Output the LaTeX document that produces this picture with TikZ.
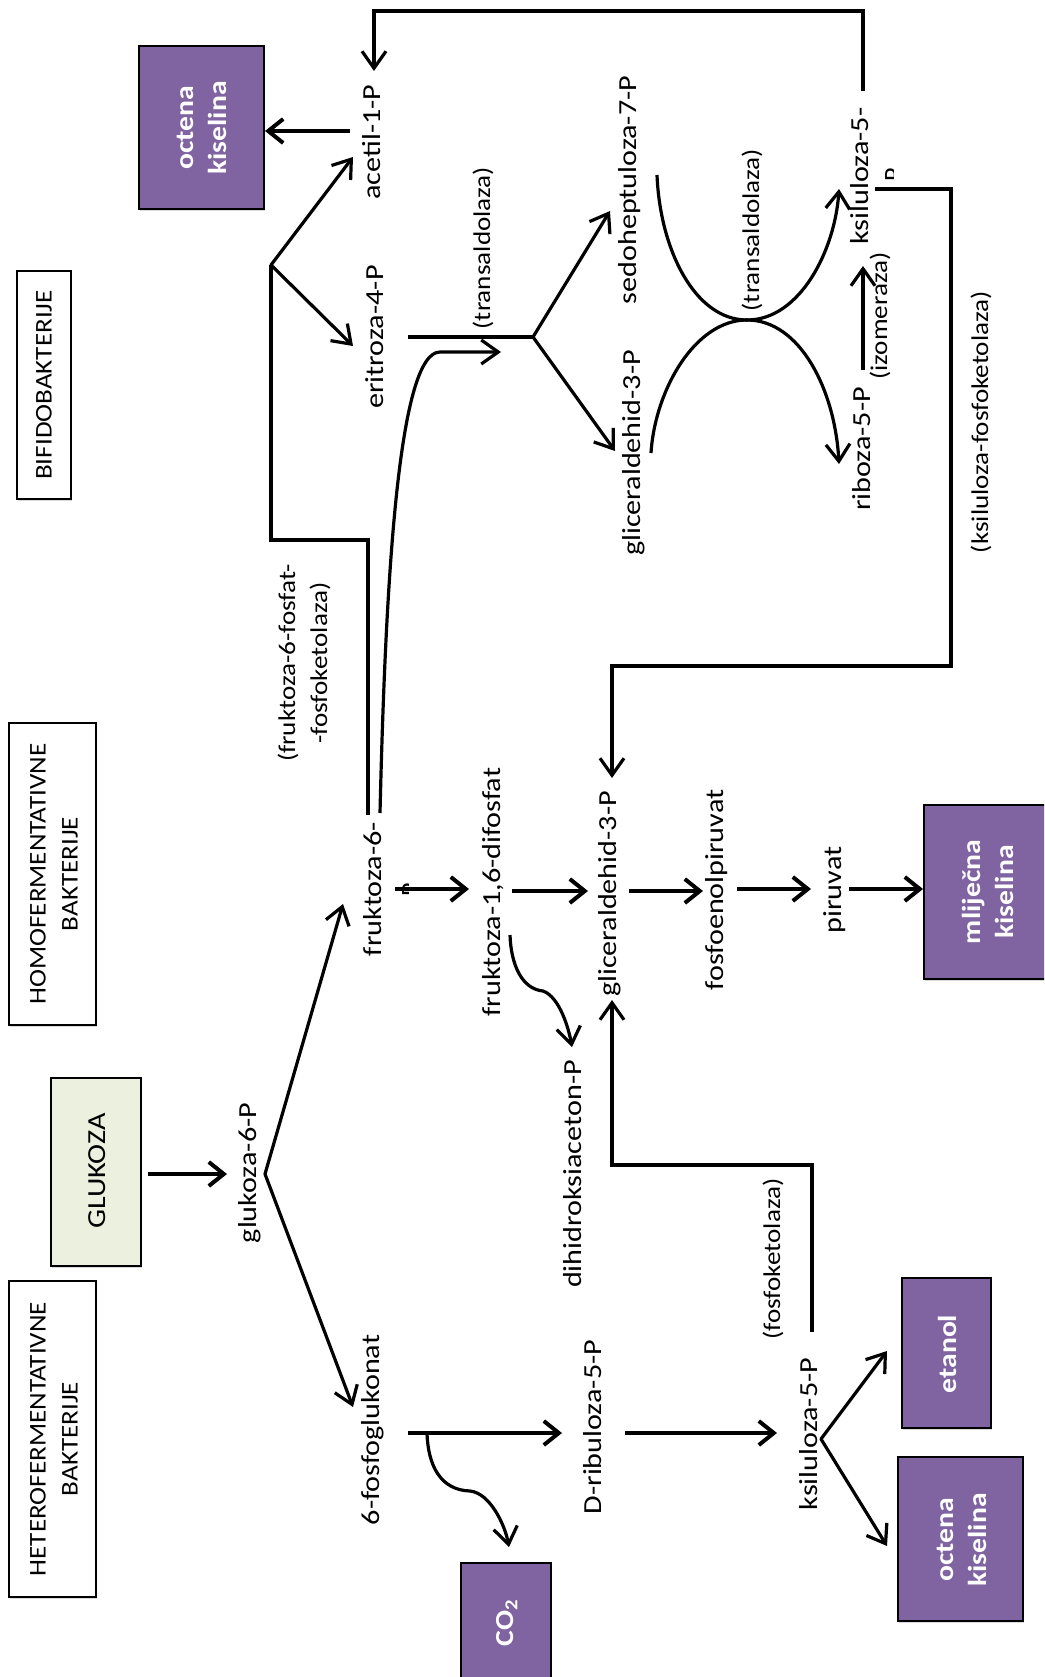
\documentclass[tikz,border=0pt]{standalone}
\usepackage{fontspec}
\setmainfont{Carlito}
\usetikzlibrary{arrows.meta,shadows}
\definecolor{purp}{HTML}{8064A2}
\definecolor{gluk}{HTML}{EBF1DE}
\tikzset{
 lbl/.style={rotate=90,xscale=1.16,inner sep=0pt,align=center,font=\fontsize{26}{30}\selectfont},
 enz/.style={rotate=90,xscale=1.13,inner sep=0pt,align=center,font=\fontsize{24}{32}\selectfont},
 clipp/.style={rotate=90,inner sep=0pt,font=\fontsize{26}{30}\selectfont},
 lblbold/.style={rotate=90,xscale=1.14,inner sep=0pt,align=center,text=white,font=\fontsize{26}{33}\selectfont\bfseries},
 fr/.style={draw=black,line width=1.5pt,drop shadow={shadow xshift=1pt,shadow yshift=-2pt,opacity=.3}},
 wbox/.style={fr,fill=white},
 pbox/.style={fr,fill=purp},
 gbox/.style={fr,fill=gluk},
 con/.style={line width=3.2pt,line cap=round,-{Straight Barb[length=17pt,width=24pt,line width=3.2pt]}},
 conb/.style={line width=4.2pt,-{Straight Barb[length=15pt,width=24pt,line width=4pt]}},
 plain/.style={line width=3.2pt,line join=miter},
}
\begin{document}
\begin{tikzpicture}[x=1pt,y=-1pt]
\useasboundingbox (0,0) rectangle (1044,1677);
\clip (0,0) rectangle (1044,1677);
% boxes
\path[wbox] (17,271) rectangle (71,499);
\path[wbox] (9,723) rectangle (96,1025);
\path[wbox] (9,1281) rectangle (96,1597);
\path[gbox] (51,1078) rectangle (141,1266);
\path[pbox] (139,46) rectangle (264,209);
\path[pbox] (924,805) rectangle (1060,979);
\path[pbox] (902,1278) rectangle (991,1428);
\path[pbox] (898,1457) rectangle (1023,1621);
\path[pbox] (461,1563) rectangle (551,1690);
% box text
\node[enz] (bifido) at (44,385) {BIFIDOBAKTERIJE};
\node[enz] (homo) at (54,874) {HOMOFERMENTATIVNE\\BAKTERIJE};
\node[enz] (hetero) at (54,1439) {HETEROFERMENTATIVNE\\BAKTERIJE};
\node[lbl] (glukoza) at (97,1171) {GLUKOZA};
\node[lblbold] (oct1) at (202,128) {octena\\kiselina};
\node[lblbold] (mlij) at (988,892) {mliječna\\kiselina};
\node[lblbold] (etanol) at (947,1354) {etanol};
\node[lblbold] (oct2) at (962,1540) {octena\\kiselina};
\node[lblbold] (co2) at (507,1623) {CO\textsubscript{2}};
% metabolites
\node[lbl] (acetil) at (372,142) {acetil-1-P};
\node[lbl] (eritroza) at (375,337) {eritroza-4-P};
\node[lbl] (sedo) at (630,190) {sedoheptuloza-7-P};
\node[lbl] (gli1) at (634,453) {gliceraldehid-3-P};
\node[lbl] (ribo) at (862,449) {riboza-5-P};
\node[lbl] (ksi1) at (860,176) {ksiluloza-5-};
\begin{scope}
\clip (880,150) rectangle (893,200);
\node[clipp] (ksi1p) at (893.5,175) {P};
\end{scope}
\node[lbl] (fru6) at (373,889) {fruktoza-6-};
\begin{scope}
\clip (392,870) rectangle (408.5,910);
\node[clipp] (fru6p) at (410.5,890) {P};
\end{scope}
\node[lbl] (fru16) at (493,892) {fruktoza-1,6-difosfat};
\node[lbl] (gli2) at (610,894) {gliceraldehid-3-P};
\node[lbl] (fosfo) at (717,890) {fosfoenolpiruvat};
\node[lbl] (piruvat) at (835,890) {piruvat};
\node[lbl] (dihi) at (573,1174) {dihidroksiaceton-P};
\node[lbl] (gluk6) at (250,1173) {glukoza-6-P};
\node[lbl] (fosfog) at (373,1430) {6-fosfoglukonat};
\node[lbl] (drib) at (593,1427) {D-ribuloza-5-P};
\node[lbl] (ksi2) at (809,1434) {ksiluloza-5-P};
% enzymes
\node[enz] (tr1) at (483,248) {(transaldolaza)};
\node[enz] (tr2) at (752,230) {(transaldolaza)};
\node[enz] (izo) at (880,316) {(izomeraza)};
\node[enz] (kf) at (981,422) {(ksiluloza-fosfoketolaza)};
\node[enz] (f6f) at (304,663) {(fruktoza-6-fosfat-\\-fosfoketolaza)};
\node[enz] (fk) at (773,1259) {(fosfoketolaza)};
% coordinates
\coordinate (a1) at (863,91); \coordinate (a2) at (863,11); \coordinate (a3) at (374,11); \coordinate (a4) at (374,71);
\coordinate (b1) at (350,131); \coordinate (b2) at (265,131);
\coordinate (br) at (271,265); \coordinate (br1) at (353,157); \coordinate (br2) at (353,346);
\coordinate (br3) at (271,540); \coordinate (br4) at (368,540); \coordinate (br5) at (368,815);
\coordinate (c1) at (380,813); \coordinate (c2) at (440,352); \coordinate (c3) at (501,352);
\coordinate (e1) at (408,337); \coordinate (e2) at (533,337); \coordinate (e3) at (610,211); \coordinate (e4) at (615,451);
\coordinate (x0) at (747,320); \coordinate (x1) at (657,175); \coordinate (x2) at (839,189); \coordinate (x3) at (651,453); \coordinate (x4) at (839,464);
\coordinate (i1) at (863,370); \coordinate (i2) at (863,266);
\coordinate (k1) at (875,189); \coordinate (k2) at (951,189); \coordinate (k3) at (951,666); \coordinate (k4) at (612,666); \coordinate (k5) at (612,778);
\coordinate (f1) at (395,889); \coordinate (f2) at (469,889); \coordinate (f3) at (512,891); \coordinate (f4) at (588,891);
\coordinate (f5) at (629,891); \coordinate (f6) at (703,891); \coordinate (f7) at (737,889); \coordinate (f8) at (811,889); \coordinate (f9) at (849,889); \coordinate (f10) at (923,889);
\coordinate (d1) at (510,935); \coordinate (d2) at (543,991); \coordinate (d3) at (572,1047);
\coordinate (g1) at (812,1332); \coordinate (g2) at (812,1165); \coordinate (g3) at (612,1165); \coordinate (g4) at (612,1000);
\coordinate (h0) at (265,1174); \coordinate (h1) at (343,904); \coordinate (h2) at (353,1407);
\coordinate (h3) at (148,1174); \coordinate (h4) at (227,1174);
\coordinate (m1) at (408,1433); \coordinate (m2) at (562,1433); \coordinate (m3) at (625,1433); \coordinate (m4) at (777,1433);
\coordinate (n0) at (821,1439); \coordinate (n1) at (887,1351); \coordinate (n2) at (887,1546);
\coordinate (q0) at (427,1433); \coordinate (q1) at (470,1491); \coordinate (q2) at (509,1547);
% connectors
\draw[con,line join=miter,line cap=butt] (a1) -- (a2) -- (a3) -- (a4);
\draw[conb] (b1) -- (b2);
\draw[con] (br) -- (br1);
\draw[con] (br) -- (br2);
\draw[plain] (br) -- (br3) -- (br4) -- (br5);
\draw[con,line cap=butt] (c1) .. controls (386,560) and (400,352) .. (c2) -- (c3);
\draw[line width=4.4pt] (e1) -- (e2);
\draw[con] (e2) -- (e3);
\draw[con] (e2) -- (e4);
\draw[plain] (x1) .. controls (660,250) and (695,320) .. (x0);
\draw[con] (x0) .. controls (800,320) and (835,250) .. (x2);
\draw[plain] (x3) .. controls (655,390) and (695,320) .. (x0);
\draw[con] (x0) .. controls (800,320) and (835,390) .. (x4);
\draw[con,line cap=butt] (i1) -- (i2);
\draw[con,line join=miter,line cap=butt] (k1) -- (k2) -- (k3) -- (k4) -- (k5);
\draw[conb] (f1) -- (f2);
\draw[conb] (f3) -- (f4);
\draw[conb] (f5) -- (f6);
\draw[conb] (f7) -- (f8);
\draw[conb] (f9) -- (f10);
\draw[con,line cap=butt] (d1) .. controls (511,965) and (522,989) .. (d2) .. controls (560,997) and (569,1030) .. (d3);
\draw[con,line join=miter,line cap=butt] (g1) -- (g2) -- (g3) -- (g4);
\draw[con] (h0) -- (h1);
\draw[con] (h0) -- (h2);
\draw[conb] (h3) -- (h4);
\draw[conb] (m1) -- (m2);
\draw[conb] (m3) -- (m4);
\draw[con] (n0) -- (n1);
\draw[con] (n0) -- (n2);
\draw[con,line cap=butt] (q0) .. controls (428,1465) and (440,1490) .. (q1) .. controls (490,1493) and (505,1525) .. (q2);
\end{tikzpicture}
\end{document}
